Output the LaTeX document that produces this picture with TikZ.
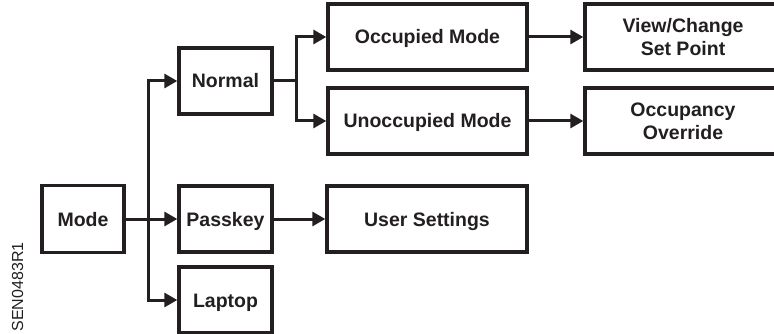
\documentclass[tikz,border=0pt]{standalone}
\usepackage{fontspec}
\setmainfont{Liberation Sans}
\usetikzlibrary{arrows.meta}
\definecolor{ink}{HTML}{231F20}
\begin{document}
\begin{tikzpicture}[x=1pt,y=-1pt,
  box/.style={draw=ink,line width=3.4pt,inner sep=0pt,font=\fontsize{19.5}{23}\selectfont\bfseries,text=ink,align=center,text height=14pt,text depth=0pt},
  box2/.style={box,text height=37pt},
  conn/.style={draw=ink,line width=3pt,-{Triangle[length=13pt,width=14pt]}},
  plain/.style={draw=ink,line width=3pt}]
\useasboundingbox (0,0) rectangle (774,334);
\clip (0,0) rectangle (774,334);
\node[box,minimum width=82pt,minimum height=67pt] (mode) at (83,219) {Mode};
\node[box,minimum width=93pt,minimum height=66pt] (normal) at (225.5,81) {Normal};
\node[box,minimum width=93pt,minimum height=66pt] (passkey) at (225.5,219) {Passkey};
\node[box,minimum width=93pt,minimum height=66pt] (laptop) at (225.5,300) {Laptop};
\node[box,minimum width=199pt,minimum height=66pt] (occ) at (427.5,37) {Occupied Mode};
\node[box,minimum width=199pt,minimum height=66pt] (unocc) at (427.5,121) {Unoccupied Mode};
\node[box,minimum width=200pt,minimum height=66pt] (user) at (427,219) {User Settings};
\node[box2,minimum width=196pt,minimum height=66pt] (view) at (683,37) {View/Change\\Set Point};
\node[box2,minimum width=196pt,minimum height=66pt] (over) at (683,121) {Occupancy\\Override};
\coordinate (sp) at (148,219);
\coordinate (sn) at (296,81);
\draw[plain] (mode.east) -- (sp);
\draw[conn] (sp) -- (passkey.west);
\draw[conn] (sp) |- (normal.west);
\draw[conn] (sp) |- (laptop.west);
\draw[plain] (normal.east) -- (sn);
\draw[conn] (sn) |- (occ.west);
\draw[conn] (sn) |- (unocc.west);
\draw[conn] (occ.east) -- (view.west);
\draw[conn] (unocc.east) -- (over.west);
\draw[conn] (passkey.east) -- (user.west);
\node[rotate=90,font=\fontsize{16}{16}\selectfont,text=ink,inner sep=0pt] (code) at (17.5,287) {SEN0483R1};
\end{tikzpicture}
\end{document}
